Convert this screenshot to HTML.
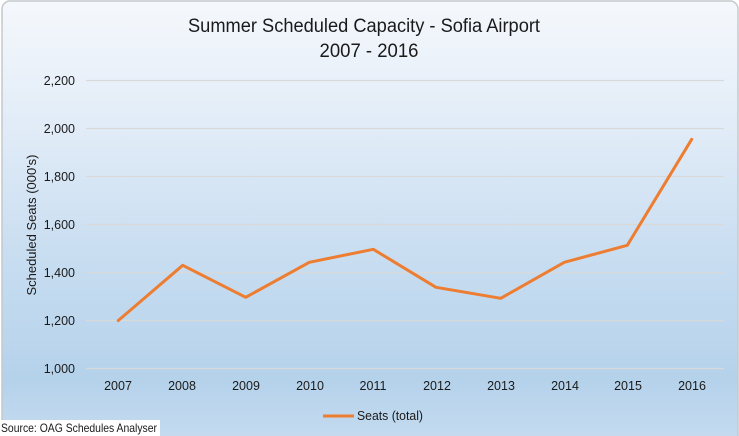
<!DOCTYPE html>
<html>
<head>
<meta charset="utf-8">
<style>
html,body{margin:0;padding:0;background:#ffffff;}
body{width:739px;height:436px;overflow:hidden;position:relative;}
svg{display:block;}
text{font-family:"Liberation Sans","DejaVu Sans",sans-serif;fill:#1a1a1a;}
</style>
</head>
<body>
<svg width="739" height="436" viewBox="0 0 739 436" xmlns="http://www.w3.org/2000/svg">
  <defs>
    <linearGradient id="bg" x1="0" y1="0" x2="0" y2="1">
      <stop offset="0" stop-color="#f5f8fc"/>
      <stop offset="0.3" stop-color="#e0ebf7"/>
      <stop offset="0.6" stop-color="#c6dcf0"/>
      <stop offset="0.85" stop-color="#b5d2eb"/>
      <stop offset="1" stop-color="#c6dcf0"/>
    </linearGradient>
  </defs>
  <rect x="0" y="0" width="739" height="436" fill="#ffffff"/>
  <rect x="2" y="1" width="736" height="445" rx="8" ry="8" fill="url(#bg)" stroke="#c3c9cc" stroke-width="1.5"/>

  <!-- title -->
  <text x="364" y="32" font-size="19" text-anchor="middle" textLength="352" lengthAdjust="spacingAndGlyphs">Summer Scheduled Capacity - Sofia Airport</text>
  <text x="369" y="57" font-size="19" text-anchor="middle" textLength="99" lengthAdjust="spacingAndGlyphs">2007 - 2016</text>

  <!-- gridlines -->
  <g stroke="#d9d9d9" stroke-width="1.2">
    <line x1="86" y1="80.5" x2="724" y2="80.5"/>
    <line x1="86" y1="128.5" x2="724" y2="128.5"/>
    <line x1="86" y1="176.5" x2="724" y2="176.5"/>
    <line x1="86" y1="224.5" x2="724" y2="224.5"/>
    <line x1="86" y1="272.5" x2="724" y2="272.5"/>
    <line x1="86" y1="320.5" x2="724" y2="320.5"/>
    <line x1="86" y1="368.5" x2="724" y2="368.5"/>
  </g>

  <!-- y labels -->
  <g font-size="12.5" text-anchor="end">
    <text x="75" y="85">2,200</text>
    <text x="75" y="133">2,000</text>
    <text x="75" y="181">1,800</text>
    <text x="75" y="229">1,600</text>
    <text x="75" y="277">1,400</text>
    <text x="75" y="325">1,200</text>
    <text x="75" y="373">1,000</text>
  </g>

  <!-- y axis title -->
  <text transform="translate(36,225) rotate(-90)" font-size="12.5" text-anchor="middle" textLength="141" lengthAdjust="spacingAndGlyphs">Scheduled Seats (000's)</text>

  <!-- x labels -->
  <g font-size="12.5" text-anchor="middle">
    <text x="118" y="390">2007</text>
    <text x="182" y="390">2008</text>
    <text x="246" y="390">2009</text>
    <text x="310" y="390">2010</text>
    <text x="373" y="390">2011</text>
    <text x="437" y="390">2012</text>
    <text x="501" y="390">2013</text>
    <text x="565" y="390">2014</text>
    <text x="628" y="390">2015</text>
    <text x="692" y="390">2016</text>
  </g>

  <!-- series -->
  <polyline fill="none" stroke="#ed7d31" stroke-width="3" stroke-linejoin="round" stroke-linecap="round"
    points="118.3,320.5 182.7,265.3 245.7,297.3 309.3,262.3 373.3,249.3 436,287.3 500.7,298.3 564.3,262.3 627.3,245.3 691.7,139.3"/>

  <!-- legend -->
  <line x1="323" y1="416" x2="354" y2="416" stroke="#ed7d31" stroke-width="3"/>
  <text x="357" y="420" font-size="12.5" textLength="66" lengthAdjust="spacingAndGlyphs">Seats (total)</text>

  <!-- source -->
  <rect x="0" y="420" width="160" height="16" fill="#ffffff"/>
  <text x="1" y="432" font-size="12" textLength="156" lengthAdjust="spacingAndGlyphs">Source: OAG Schedules Analyser</text>
</svg>
</body>
</html>
